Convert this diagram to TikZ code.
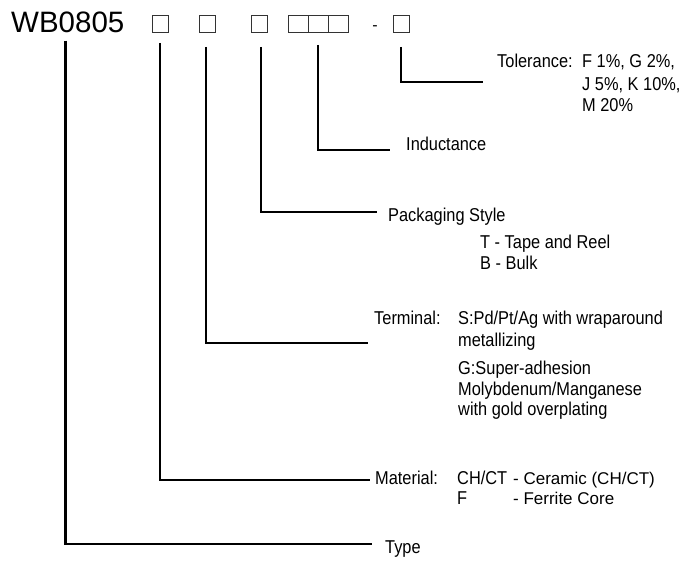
\documentclass[tikz,border=0pt]{standalone}
\usepackage{fontspec}
\setmainfont{Liberation Sans}
\newfontfamily\narrowfont[FakeStretch=0.88]{Liberation Sans}
\usetikzlibrary{positioning,calc}

\begin{document}
\begin{tikzpicture}[
	x=1pt, y=-1pt,
	digit/.style={draw=black!80, line width=0.6pt, minimum width=16pt, minimum height=17pt, inner sep=0pt},
	wide/.style={digit, minimum width=20pt},
	leader/.style={line width=2.6pt},
	lbl/.style={anchor=west, inner sep=0pt, text height=13pt, text depth=3.5pt, font=\narrowfont\fontsize{18.6}{22}\selectfont},
	wlbl/.style={lbl, font=\fontsize{17}{22}\selectfont}]
	\useasboundingbox (0,0) rectangle (684,560);
	% part number and its fields
	\node[anchor=west, inner sep=0pt, font=\fontsize{29.5}{32}\selectfont] (wb) at (11,22) {WB0805};
	\node[digit] (bmat) at (160,24) {};
	\node[digit] (bterm) at (207,24) {};
	\node[digit] (bpack) at (259,24) {};
	\node[wide] (bind1) at (298,24) {};
	\node[wide] (bind2) at (318,24) {};
	\node[wide] (bind3) at (338,24) {};
	\node[inner sep=0pt, font=\fontsize{16}{18}\selectfont] (dash) at (375,28) {-};
	\node[digit] (btol) at (401,24) {};
	% labels
	\node[lbl] (tol) at (497,63) {Tolerance:};
	\node[lbl] (tol1) at (582,63) {F 1\%, G 2\%,};
	\node[lbl] (tol2) at (582,86) {J 5\%, K 10\%,};
	\node[lbl] (tol3) at (582,107) {M 20\%};
	\node[lbl] (ind) at (406,146) {Inductance};
	\node[lbl] (pack) at (388,217) {Packaging Style};
	\node[lbl] (pack1) at (480,244) {T - Tape and Reel};
	\node[lbl] (pack2) at (480,265) {B - Bulk};
	\node[lbl] (term) at (374,320) {Terminal:};
	\node[lbl] (term1) at (458,320) {S:Pd/Pt/Ag with wraparound};
	\node[lbl] (term2) at (458,342) {metallizing};
	\node[lbl] (term3) at (458,370) {G:Super-adhesion};
	\node[lbl] (term4) at (458,391) {Molybdenum/Manganese};
	\node[lbl] (term5) at (458,411) {with gold overplating};
	\node[lbl] (mat) at (375,480) {Material:};
	\node[lbl] (mat1) at (457,480) {CH/CT};
	\node[wlbl] (mat2) at (513,480) {- Ceramic (CH/CT)};
	\node[lbl] (mat3) at (457,500) {F};
	\node[wlbl] (mat4) at (513,500) {- Ferrite Core};
	\node[lbl] (type) at (385,549) {Type};
	% leaders
	\draw[leader] ([yshift=-14pt]btol.south) |- ([shift={(-14pt,-19pt)}]tol.west);
	\draw[leader] ([yshift=-12pt]bind2.south) |- ([shift={(-16pt,-4pt)}]ind.west);
	\draw[leader] ([shift={(2pt,-14pt)}]bpack.south) |- ([shift={(-11pt,5pt)}]pack.west);
	\draw[leader] ([shift={(-1pt,-14pt)}]bterm.south) |- ([shift={(-6pt,-23pt)}]term.west);
	\draw[leader] ([yshift=-10pt]bmat.south) |- ([xshift=-5pt]mat.west);
	\draw[leader] ([shift={(-2pt,-8pt)}]wb.south) |- ([shift={(-13pt,5pt)}]type.west);
\end{tikzpicture}
\end{document}
